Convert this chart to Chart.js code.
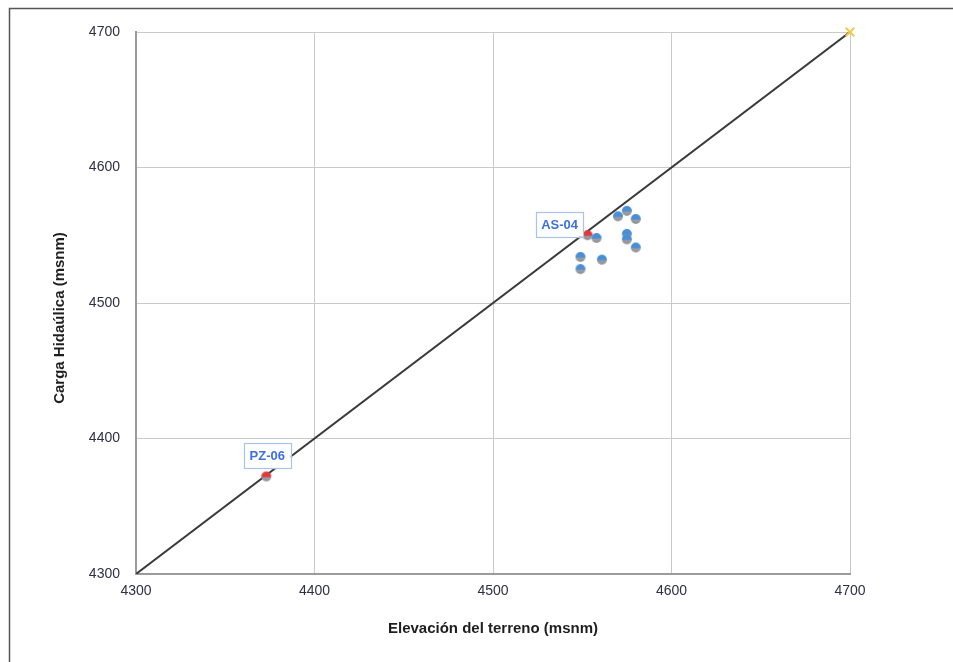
<!DOCTYPE html>
<html><head><meta charset="utf-8">
<script src="https://cdn.jsdelivr.net/npm/chart.js@4.4.0/dist/chart.umd.min.js"></script>
<style>html,body{margin:0;padding:0;background:#fff;}#wrap{position:relative;width:953px;height:662px;}</style>
</head><body><div id="wrap"><canvas id="c" width="953" height="662"></canvas></div>
<script>
// ---- data ----
const wellElevation = [4553, 4558, 4570, 4575, 4580, 4575, 4575, 4580, 4549, 4561, 4549, 4373];
const wellHead      = [4550, 4548, 4564, 4568, 4562, 4551, 4547, 4541, 4534, 4532, 4525, 4372];
const wellLabels    = ['AS-04', '', '', '', '', '', '', '', '', '', '', 'PZ-06'];
const lineElevation = [4300, 4700];
const lineHead      = [4300, 4700];
const refElevation  = [4700];
const refHead       = [4700];
const axisMin = 4300, axisMax = 4700, axisStep = 100;
const xTitle = 'Elevación del terreno (msnm)';
const yTitle = 'Carga Hidaúlica (msnm)';

// ---- marker images ----
function makeMarker(top) {
  const c = document.createElement('canvas');
  c.width = 12; c.height = 12;
  const g = c.getContext('2d');
  const grad = g.createLinearGradient(0, 0, 0, 12);
  grad.addColorStop(0, top);
  grad.addColorStop(0.5, top);
  grad.addColorStop(0.62, '#9a9da2');
  grad.addColorStop(1, '#8a8c8f');
  g.fillStyle = grad;
  g.beginPath(); g.arc(6, 6, 5, 0, Math.PI * 2); g.fill();
  return c;
}
const blueMarker = makeMarker('#4a8fd6');
const redMarker = makeMarker('#e0393b');

const labelStyle = {
  offsets: {'AS-04': [-28, -11], 'PZ-06': [1, -21]},
  w: 47, h: 25
};

const framePlugin = {
  id: 'frame',
  beforeDraw(chart) {
    const ctx = chart.ctx;
    ctx.save();
    ctx.fillStyle = '#fff';
    ctx.fillRect(0, 0, chart.width, chart.height);
    ctx.strokeStyle = '#555';
    ctx.lineWidth = 1.5;
    ctx.strokeRect(9.5, 8.5, 1000, 1000);
    ctx.restore();
  },
  afterDraw(chart) {
    const ctx = chart.ctx;
    ctx.save();
    ctx.translate(60, 318);
    ctx.rotate(-Math.PI / 2);
    ctx.font = 'bold 15px "Liberation Sans", Arial, sans-serif';
    ctx.fillStyle = '#1e1e1e';
    ctx.textAlign = 'center';
    ctx.textBaseline = 'middle';
    ctx.fillText(yTitle, 0, 0);
    ctx.restore();
  }
};

const labelPlugin = {
  id: 'wellLabels',
  afterDatasetsDraw(chart) {
    const ctx = chart.ctx;
    const meta = chart.getDatasetMeta(2);
    ctx.save();
    wellLabels.forEach((lab, i) => {
      if (!lab) return;
      const el = meta.data[i];
      const off = labelStyle.offsets[lab] || [0, -20];
      const cx = el.x + off[0], cy = el.y + off[1];
      const w = labelStyle.w, h = labelStyle.h;
      ctx.fillStyle = '#fff';
      ctx.fillRect(cx - w / 2, cy - h / 2, w, h);
      ctx.strokeStyle = '#a9c3e6';
      ctx.lineWidth = 1.2;
      ctx.strokeRect(Math.round(cx - w / 2) + 0.5, Math.round(cy - h / 2) + 0.5, w, h);
      ctx.font = 'bold 13px "Liberation Sans", Arial, sans-serif';
      ctx.fillStyle = '#3d6fe0';
      ctx.textAlign = 'center';
      ctx.textBaseline = 'middle';
      ctx.fillText(lab, cx, cy + 1);
    });
    ctx.restore();
  }
};

const tickFont = {family: '"Liberation Sans", Arial, sans-serif', size: 14};
const plainTick = (v) => String(v);

new Chart(document.getElementById('c'), {
  type: 'scatter',
  data: {
    datasets: [
      {
        type: 'line',
        data: lineElevation.map((x, i) => ({x, y: lineHead[i]})),
        borderColor: '#3a3a3a', borderWidth: 2, pointRadius: 0, fill: false, order: 3
      },
      {
        data: refElevation.map((x, i) => ({x, y: refHead[i]})),
        pointStyle: 'crossRot', pointRadius: 6, borderColor: '#f6c94a', borderWidth: 2,
        backgroundColor: '#f6c94a', clip: false, order: 1
      },
      {
        data: wellElevation.map((x, i) => ({x, y: wellHead[i]})),
        pointStyle: (ctx) => wellLabels[ctx.dataIndex] ? redMarker : blueMarker,
        pointRadius: 6, order: 2
      }
    ]
  },
  options: {
    responsive: false,
    animation: false,
    devicePixelRatio: 1,
    layout: {padding: {left: 0, right: 103, top: 32, bottom: 0}},
    plugins: {legend: {display: false}, tooltip: {enabled: false}},
    scales: {
      x: {
        type: 'linear', min: axisMin, max: axisMax,
        ticks: {stepSize: axisStep, padding: 9, color: '#2f2f45', font: tickFont, callback: plainTick},
        grid: {color: '#c9c9c9', lineWidth: 1, drawTicks: false},
        border: {color: '#9b9b9b', width: 2},
        title: {display: true, text: xTitle, color: '#1e1e1e',
          font: {family: '"Liberation Sans", Arial, sans-serif', size: 15, weight: 'bold'},
          padding: {top: 0, bottom: 24}},
        afterFit(scale) { scale.height = 88; }
      },
      y: {
        type: 'linear', min: axisMin, max: axisMax,
        ticks: {stepSize: axisStep, padding: 16, color: '#2f2f45', font: tickFont, callback: plainTick},
        grid: {color: '#c9c9c9', lineWidth: 1, drawTicks: false},
        border: {color: '#9b9b9b', width: 2},
        afterFit(scale) { scale.width = 136; }
      }
    }
  },
  plugins: [framePlugin, labelPlugin]
});
</script>
</body></html>
